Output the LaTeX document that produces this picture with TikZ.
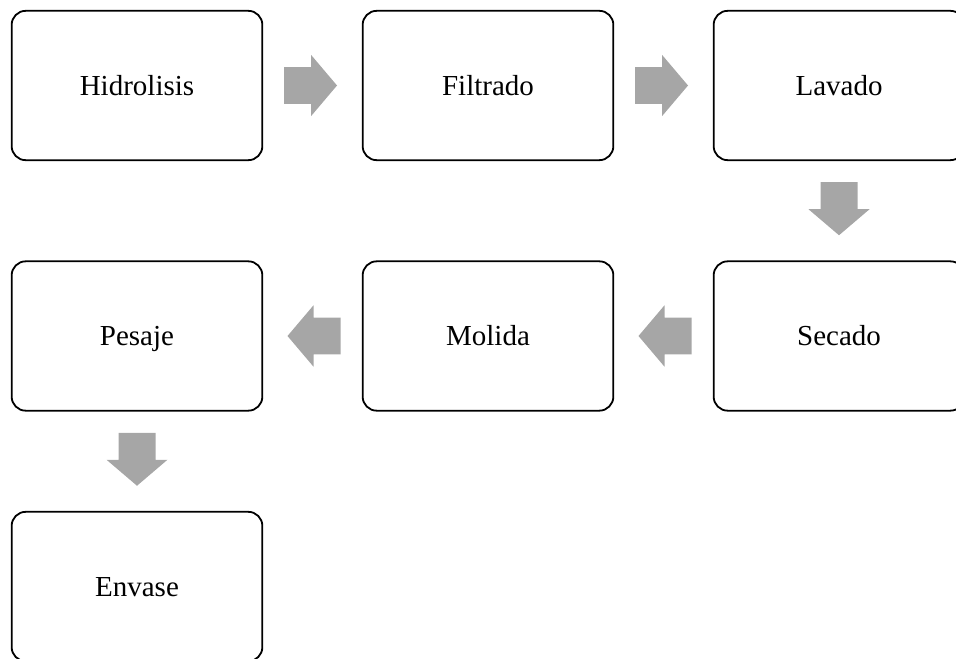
\documentclass[tikz,border=0pt]{standalone}
\usepackage{fontspec}
\setmainfont{Liberation Serif}
\usetikzlibrary{calc}
\definecolor{arrowgray}{RGB}{166,166,166}
\begin{document}
\begin{tikzpicture}[x=0.75pt,y=-0.75pt,
  stepbox/.style={draw=black, line width=1.35pt, rounded corners=10.5pt, fill=white,
    minimum width=188pt, minimum height=112pt, inner sep=0pt,
    text height=18pt, text depth=3.7pt,
    font=\fontsize{21.75pt}{26pt}\selectfont},
  blockarrow/.style={fill=arrowgray, draw=none}]
\useasboundingbox (0,0) rectangle (956,659);
\node[stepbox] (hid) at (137,85.5) {Hidrolisis};
\node[stepbox] (fil) at (488,85.5) {Filtrado};
\node[stepbox] (lav) at (839,85.5) {Lavado};
\node[stepbox] (sec) at (839,336) {Secado};
\node[stepbox] (mol) at (488,336) {Molida};
\node[stepbox] (pes) at (137,336) {Pesaje};
\node[stepbox] (env) at (137,586.5) {Envase};
% arrow centres
\coordinate (a1) at ($(hid.east)!0.5!(fil.west)+(-2,0)$);
\coordinate (a2) at ($(fil.east)!0.5!(lav.west)+(-2,0)$);
\coordinate (a3) at ($(lav.south)!0.5!(sec.north)+(0,-2)$);
\coordinate (a4) at ($(sec.west)!0.5!(mol.east)+(1.5,0)$);
\coordinate (a5) at ($(mol.west)!0.5!(pes.east)+(1.5,0)$);
\coordinate (a6) at ($(pes.south)!0.5!(env.north)+(0,-2)$);
% right arrows
\foreach \c in {a1,a2}{
  \fill[blockarrow, shift={(\c)}] (-26.5,-18.3) -- (0.5,-18.3) -- (0.5,-30.7) -- (26.5,0) -- (0.5,30.7) -- (0.5,18.3) -- (-26.5,18.3) -- cycle;
}
% left arrows
\foreach \c in {a4,a5}{
  \fill[blockarrow, shift={(\c)}] (26.5,-18.3) -- (-0.5,-18.3) -- (-0.5,-30.7) -- (-26.5,0) -- (-0.5,30.7) -- (-0.5,18.3) -- (26.5,18.3) -- cycle;
}
% down arrows
\foreach \c in {a3,a6}{
  \fill[blockarrow, shift={(\c)}] (-18.5,-26.5) -- (18.5,-26.5) -- (18.5,0.5) -- (30.5,0.5) -- (0,26.5) -- (-30.5,0.5) -- (-18.5,0.5) -- cycle;
}
\end{tikzpicture}
\end{document}
